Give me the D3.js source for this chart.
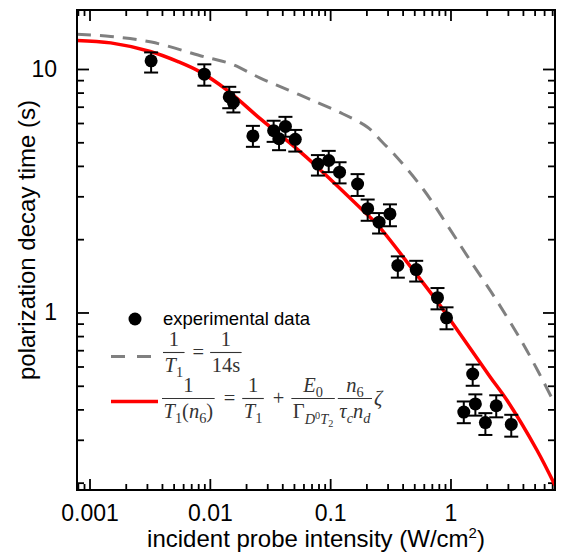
<!DOCTYPE html>
<html>
<head>
<meta charset="utf-8">
<script src="https://cdn.jsdelivr.net/npm/d3@7"></script>
<style>
  body { margin: 0; background: #fff; }
  svg text { fill: #000; }
</style>
</head>
<body>
<div id="chart"></div>
<script>
(function () {
  'use strict';

  // measured decay times (s) vs incident probe intensity (W/cm^2)
  const intensity = [0.00325, 0.0090, 0.0145, 0.0157, 0.0228, 0.0339, 0.0376, 0.0425, 0.0513, 0.0791, 0.0973, 0.1197, 0.169, 0.205, 0.255, 0.314, 0.365, 0.519, 0.780, 0.927, 1.29, 1.53, 1.61, 1.95, 2.40, 3.20];
  const decayTime = [10.8, 9.52, 7.68, 7.3, 5.31, 5.58, 5.17, 5.81, 5.14, 4.07, 4.21, 3.77, 3.37, 2.67, 2.35, 2.54, 1.56, 1.50, 1.15, 0.951, 0.390, 0.559, 0.421, 0.353, 0.414, 0.347];
  const errHigh = [11.7, 10.45, 8.45, 8.03, 5.84, 6.13, 5.70, 6.36, 5.62, 4.43, 4.61, 4.14, 3.70, 2.91, 2.56, 2.78, 1.70, 1.63, 1.26, 1.05, 0.431, 0.611, 0.461, 0.386, 0.457, 0.380];
  const errLow = [9.67, 8.54, 6.9, 6.63, 4.79, 5.02, 4.64, 5.27, 4.58, 3.65, 3.77, 3.39, 3.01, 2.38, 2.11, 2.26, 1.39, 1.34, 1.03, 0.853, 0.351, 0.500, 0.377, 0.314, 0.371, 0.309];

  // model curve T1(n6) (red)
  const fitX = [0.000787, 0.0015, 0.0032, 0.0055, 0.0083, 0.0139, 0.0262, 0.0529, 0.0776, 0.199, 0.244, 0.492, 0.745, 1.0, 2.13, 2.94, 5.21, 7.39];
  const fitY = [13.1, 12.8, 11.8, 10.7, 9.73, 8.19, 6.25, 4.70, 3.97, 2.55, 2.31, 1.49, 1.14, 0.93, 0.545, 0.437, 0.273, 0.195];

  // model curve with 1/T1 = 1/14s (grey dashed)
  const constX = [0.000787, 0.0015, 0.00327, 0.00912, 0.015, 0.026, 0.0451, 0.0785, 0.127, 0.206, 0.272, 0.336, 0.596, 1.0, 1.43, 2.42, 4.30, 7.39];
  const constY = [13.9, 13.6, 12.9, 11.2, 10.5, 9.2, 8.19, 7.28, 6.55, 5.75, 5.0, 4.5, 3.2, 2.18, 1.66, 1.12, 0.70, 0.42];

  const xDomain = [0.000787, 7.39];
  const yDomain = [0.1866, 17.47];
  const xTicks = [0.001, 0.01, 0.1, 1];
  const xTickLabels = ['0.001', '0.01', '0.1', '1'];
  const yTicks = [1, 10];
  const yTickLabels = ['1', '10'];
  const xTitle = 'incident probe intensity (W/cm';
  const yTitle = 'polarization decay time (s)';
  const legendData = 'experimental data';

  const W = 563, H = 553;
  const margin = { top: 10, right: 8, bottom: 63, left: 77 };
  const width = W - margin.left - margin.right;
  const height = H - margin.top - margin.bottom;

  const svg = d3.select('#chart').append('svg')
    .attr('width', W).attr('height', H)
    .style('font-family', '"Liberation Sans", Arial, sans-serif');

  const g = svg.append('g').attr('transform', `translate(${margin.left},${margin.top})`);

  const x = d3.scaleLog().domain(xDomain).range([0, width]);
  const y = d3.scaleLog().domain(yDomain).range([height, 0]);

  svg.append('defs').append('clipPath').attr('id', 'plotclip')
    .append('rect').attr('width', width).attr('height', height);

  // axes: major + minor ticks on all sides, pointing inward
  const xMinor = x.ticks().filter((v) => !xTicks.some((t) => Math.abs(t - v) / t < 1e-6));
  const yMinor = y.ticks().filter((v) => !yTicks.some((t) => Math.abs(t - v) / t < 1e-6));

  function styleAxis(sel) {
    sel.select('.domain').remove();
    sel.selectAll('.tick line').attr('stroke', '#000').attr('stroke-width', 1.8);
  }

  g.append('g').attr('transform', `translate(0,${height})`)
    .call(d3.axisBottom(x).tickValues(xTicks).tickSize(-11).tickPadding(15)
      .tickFormat((d, i) => xTickLabels[i]))
    .call(styleAxis)
    .selectAll('text').attr('font-size', 23).attr('dy', '0.71em').attr('fill', '#000');
  g.append('g').attr('transform', `translate(0,${height})`)
    .call(d3.axisBottom(x).tickValues(xMinor).tickSize(-6).tickFormat(''))
    .call(styleAxis);
  g.append('g')
    .call(d3.axisTop(x).tickValues(xTicks).tickSize(-11).tickFormat(''))
    .call(styleAxis);
  g.append('g')
    .call(d3.axisTop(x).tickValues(xMinor).tickSize(-6).tickFormat(''))
    .call(styleAxis);

  g.append('g')
    .call(d3.axisLeft(y).tickValues(yTicks).tickSize(-12).tickPadding(20)
      .tickFormat((d, i) => yTickLabels[i]))
    .call(styleAxis)
    .selectAll('text').attr('font-size', 23).attr('fill', '#000');
  g.append('g')
    .call(d3.axisLeft(y).tickValues(yMinor).tickSize(-7).tickFormat(''))
    .call(styleAxis);
  g.append('g').attr('transform', `translate(${width},0)`)
    .call(d3.axisRight(y).tickValues(yTicks).tickSize(-12).tickFormat(''))
    .call(styleAxis);
  g.append('g').attr('transform', `translate(${width},0)`)
    .call(d3.axisRight(y).tickValues(yMinor).tickSize(-7).tickFormat(''))
    .call(styleAxis);

  // curves
  const plot = g.append('g').attr('clip-path', 'url(#plotclip)');
  const line = d3.line().x((d) => x(d[0])).y((d) => y(d[1])).curve(d3.curveCatmullRom.alpha(0.5));

  plot.append('path')
    .datum(constX.map((v, i) => [v, constY[i]]))
    .attr('fill', 'none').attr('stroke', '#808080').attr('stroke-width', 3)
    .attr('stroke-dasharray', '14,9')
    .attr('d', line);

  plot.append('path')
    .datum(fitX.map((v, i) => [v, fitY[i]]))
    .attr('fill', 'none').attr('stroke', '#ff0000').attr('stroke-width', 3.5)
    .attr('d', line);

  // data points with error bars
  const pts = intensity.map((v, i) => ({ x: v, y: decayTime[i], lo: errLow[i], hi: errHigh[i] }));
  const eb = g.append('g').attr('stroke', '#000').attr('stroke-width', 2);
  pts.forEach((d) => {
    const cx = x(d.x);
    eb.append('line').attr('x1', cx).attr('x2', cx).attr('y1', y(d.lo)).attr('y2', y(d.hi));
    eb.append('line').attr('x1', cx - 7).attr('x2', cx + 7).attr('y1', y(d.lo)).attr('y2', y(d.lo));
    eb.append('line').attr('x1', cx - 7).attr('x2', cx + 7).attr('y1', y(d.hi)).attr('y2', y(d.hi));
  });
  g.selectAll('.dot').data(pts).enter().append('circle')
    .attr('cx', (d) => x(d.x)).attr('cy', (d) => y(d.y))
    .attr('r', 6.5).attr('fill', '#000');

  // frame
  g.append('rect').attr('width', width).attr('height', height)
    .attr('fill', 'none').attr('stroke', '#000').attr('stroke-width', 2);

  // axis titles
  const xt = svg.append('text')
    .attr('x', margin.left + width / 2).attr('y', 547)
    .attr('text-anchor', 'middle').attr('font-size', 24);
  xt.append('tspan').text(xTitle);
  xt.append('tspan').attr('dy', -9).attr('font-size', 15).text('2');
  xt.append('tspan').attr('dy', 9).text(')');

  svg.append('text')
    .attr('transform', 'translate(35,240) rotate(-90)')
    .attr('text-anchor', 'middle').attr('font-size', 24)
    .text(yTitle);

  // legend
  const lg = svg.append('g');
  lg.append('circle').attr('cx', 135).attr('cy', 319).attr('r', 6.5).attr('fill', '#000');
  lg.append('text').attr('x', 163).attr('y', 325).attr('font-size', 18.5).text(legendData);

  lg.append('line').attr('x1', 111).attr('x2', 151).attr('y1', 356.5).attr('y2', 356.5)
    .attr('stroke', '#808080').attr('stroke-width', 3).attr('stroke-dasharray', '14,12');
  lg.append('line').attr('x1', 111).attr('x2', 158).attr('y1', 401.5).attr('y2', 401.5)
    .attr('stroke', '#ff0000').attr('stroke-width', 3.5);

  const MFS = 20.5;
  const mathColor = '#333';
  const mg = lg.append('g').style('font-family', '"Liberation Serif", "Times New Roman", serif');

  function addSegs(t, segs) {
    let cur = 0;
    segs.forEach((s) => {
      const shift = (s.s || 0) * MFS;
      t.append('tspan')
        .attr('dy', shift - cur)
        .attr('font-size', MFS * (s.k || 1))
        .attr('font-style', s.i ? 'italic' : 'normal')
        .text(s.t);
      cur = shift;
    });
  }

  function mathRow(x0, yBar, items) {
    let cx = x0;
    items.forEach((it) => {
      if (it.frac) {
        const tn = mg.append('text').attr('text-anchor', 'middle').attr('y', yBar - 7).style('fill', mathColor);
        addSegs(tn, it.num);
        const td = mg.append('text').attr('text-anchor', 'middle').attr('y', yBar + 19).style('fill', mathColor);
        addSegs(td, it.den);
        const w = Math.max(tn.node().getComputedTextLength(), td.node().getComputedTextLength()) + 3;
        tn.attr('x', cx + w / 2);
        td.attr('x', cx + w / 2);
        mg.append('line').attr('x1', cx).attr('x2', cx + w).attr('y1', yBar).attr('y2', yBar)
          .attr('stroke', mathColor).attr('stroke-width', 1.1);
        cx += w + (it.gap || 2);
      } else {
        const t = mg.append('text').attr('x', cx + (it.pad || 0)).attr('y', yBar + 6).style('fill', mathColor);
        addSegs(t, it.segs);
        cx += t.node().getComputedTextLength() + 2 * (it.pad || 0);
      }
    });
  }

  const sub = (t, i) => ({ t: t, i: !!i, s: 0.28, k: 0.7 });

  mathRow(163, 352.5, [
    { frac: true, num: [{ t: '1' }], den: [{ t: 'T', i: true }, sub('1')] },
    { segs: [{ t: '=' }], pad: 6 },
    { frac: true, num: [{ t: '1' }], den: [{ t: '14s' }] }
  ]);

  mathRow(162, 398.5, [
    { frac: true, num: [{ t: '1' }], den: [{ t: 'T', i: true }, sub('1'), { t: '(' }, { t: 'n', i: true }, sub('6'), { t: ')' }] },
    { segs: [{ t: '=' }], pad: 7 },
    { frac: true, num: [{ t: '1' }], den: [{ t: 'T', i: true }, sub('1')] },
    { segs: [{ t: '+' }], pad: 7 },
    { frac: true, num: [{ t: 'E', i: true }, sub('0')],
      den: [{ t: 'Γ' }, { t: 'D', i: true, s: 0.3, k: 0.7 }, { t: '0', s: 0.05, k: 0.5 }, { t: 'T', i: true, s: 0.3, k: 0.7 }, { t: '2', s: 0.45, k: 0.5 }], gap: 3 },
    { frac: true, num: [{ t: 'n', i: true }, sub('6')],
      den: [{ t: 'τ', i: true }, sub('c', true), { t: 'n', i: true }, sub('d', true)] },
    { segs: [{ t: 'ζ', i: true }] }
  ]);
})();
</script>
</body>
</html>
